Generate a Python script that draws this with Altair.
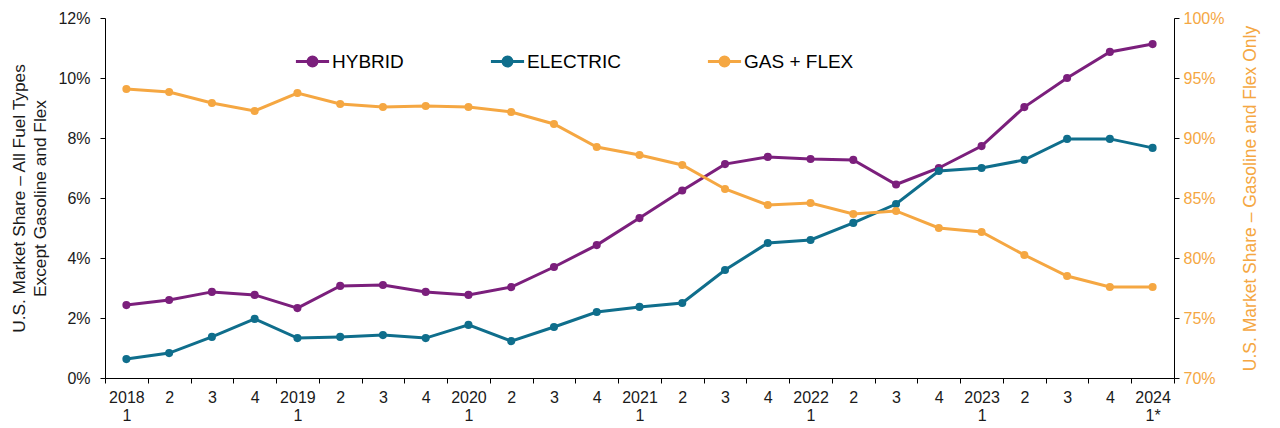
import altair as alt
import pandas as pd

quarters = ["2018-1", "2018-2", "2018-3", "2018-4",
            "2019-1", "2019-2", "2019-3", "2019-4",
            "2020-1", "2020-2", "2020-3", "2020-4",
            "2021-1", "2021-2", "2021-3", "2021-4",
            "2022-1", "2022-2", "2022-3", "2022-4",
            "2023-1", "2023-2", "2023-3", "2023-4",
            "2024-1*"]

hybrid = [2.43, 2.60, 2.87, 2.77, 2.33, 3.07, 3.10, 2.87, 2.77, 3.03,
          3.70, 4.43, 5.33, 6.25, 7.13, 7.37, 7.30, 7.27, 6.45, 7.00,
          7.73, 9.03, 10.00, 10.87, 11.13]
electric = [0.63, 0.83, 1.37, 1.97, 1.33, 1.37, 1.43, 1.33, 1.77, 1.23,
            1.70, 2.20, 2.37, 2.50, 3.60, 4.50, 4.60, 5.17, 5.80, 6.90,
            7.00, 7.27, 7.97, 7.97, 7.67]
gas_flex = [94.08, 93.83, 92.92, 92.25, 93.75, 92.83, 92.58, 92.67, 92.58, 92.17,
            91.17, 89.25, 88.58, 87.75, 85.75, 84.42, 84.58, 83.67, 83.92, 82.50,
            82.17, 80.25, 78.50, 77.58, 77.58]

series_names = ["HYBRID", "ELECTRIC", "GAS + FLEX"]
series_colors = ["#7B1F7C", "#0F6E8C", "#F5A742"]

left_df = pd.DataFrame(
    [{"quarter": q, "series": "HYBRID", "value": v / 100} for q, v in zip(quarters, hybrid)]
    + [{"quarter": q, "series": "ELECTRIC", "value": v / 100} for q, v in zip(quarters, electric)]
)
right_df = pd.DataFrame(
    [{"quarter": q, "series": "GAS + FLEX", "value": v / 100} for q, v in zip(quarters, gas_flex)]
)

FONT = "Liberation Sans"

label_expr = ("(split(datum.value,'-')[1] == '1' || split(datum.value,'-')[1] == '1*') ? "
              "[split(datum.value,'-')[0], split(datum.value,'-')[1]] : split(datum.value,'-')[1]")

x_enc = alt.X(
    "quarter:O",
    sort=quarters,
    bandPosition=0.5,
    scale=alt.Scale(type="band", domain=quarters, paddingInner=0, paddingOuter=0),
    axis=alt.Axis(
        title=None, labelAngle=0, tickBand="extent", labelExpr=label_expr,
        labelFont=FONT, labelFontSize=16, labelColor="#1a1a1a",
        domainColor="#000000", tickColor="#000000", tickSize=5,
        labelPadding=6, labelLineHeight=18,
    ),
)

legend_symbol = ("M-1,0H1M-0.27,0A0.27,0.27 0 1,0 0.27,0A0.27,0.27 0 1,0 -0.27,0Z")

color_enc = alt.Color(
    "series:N",
    scale=alt.Scale(domain=series_names, range=series_colors),
    sort=series_names,
    legend=alt.Legend(
        title=None, orient="none", legendX=189, legendY=25, direction="horizontal",
        symbolType=legend_symbol, symbolSize=1100, symbolStrokeWidth=3,
        labelFont=FONT, labelFontSize=19, labelColor="#000000", labelOffset=1,
        columnPadding=80,
    ),
)

left_y = alt.Y(
    "value:Q",
    scale=alt.Scale(domain=[0, 0.12]),
    axis=alt.Axis(
        format=".0%", values=[0, 0.02, 0.04, 0.06, 0.08, 0.10, 0.12],
        title=["U.S. Market Share \u2013 All Fuel Types", "Except Gasoline and Flex"],
        titleFont=FONT, titleFontSize=17.3, titleFontWeight="normal", titleColor="#1a1a1a",
        titleLineHeight=21, titlePadding=8, labelFont=FONT, labelFontSize=16,
        labelColor="#1a1a1a", labelPadding=10,
        domainColor="#000000", tickColor="#000000", tickSize=5, grid=False,
    ),
)

right_y = alt.Y(
    "value:Q",
    scale=alt.Scale(domain=[0.70, 1.00]),
    axis=alt.Axis(
        orient="right", format=".0%", values=[0.70, 0.75, 0.80, 0.85, 0.90, 0.95, 1.00],
        title="U.S. Market Share \u2013 Gasoline and Flex Only",
        titleFont=FONT, titleFontSize=17.5, titleFontWeight="normal", titleColor="#F5A742",
        titleAngle=270, titlePadding=36, labelFont=FONT, labelFontSize=16, labelColor="#F5A742",
        labelPadding=4,
        domainColor="#000000", tickColor="#000000", tickSize=5, grid=False,
    ),
)

left_base = alt.Chart(left_df).encode(x=x_enc, y=left_y, color=color_enc)
left = alt.layer(
    left_base.mark_line(strokeWidth=3),
    left_base.mark_point(filled=True, size=65, opacity=1),
)

right_base = alt.Chart(right_df).encode(x=x_enc, y=right_y, color=color_enc)
right = alt.layer(
    right_base.mark_line(strokeWidth=3),
    right_base.mark_point(filled=True, size=65, opacity=1),
)

chart = (
    alt.layer(left, right)
    .resolve_scale(y="independent")
    .properties(width=1069, height=360, background="white",
                padding={"left": 2, "top": 2, "right": 2, "bottom": 0})
    .configure_view(stroke=None)
)

chart.save("out.html", embed_options={"renderer": "svg", "actions": False})
